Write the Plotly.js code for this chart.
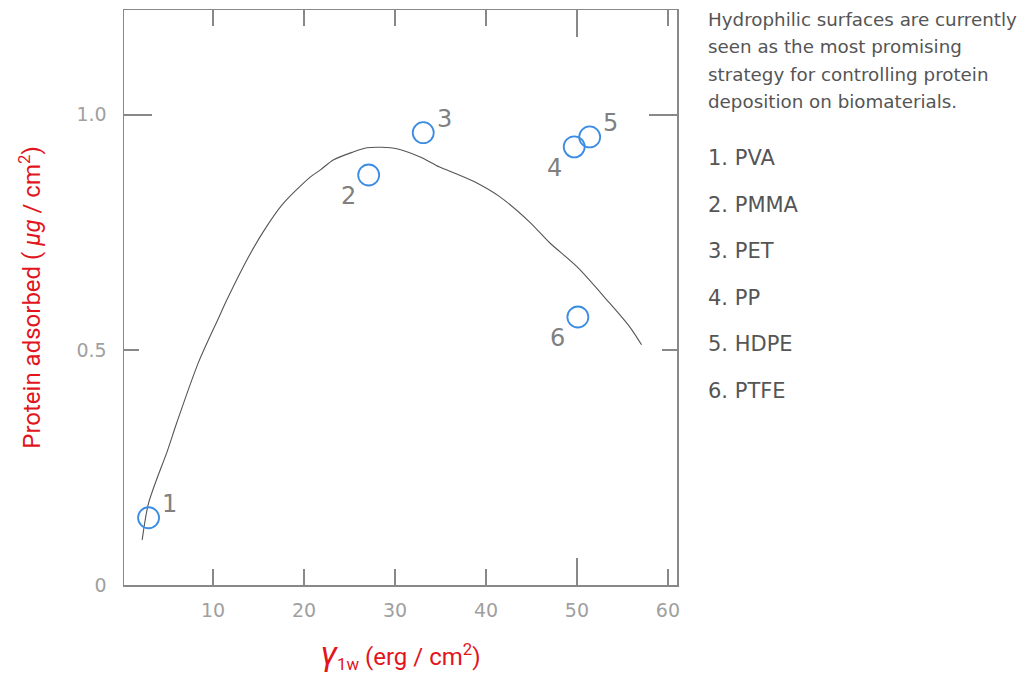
<!DOCTYPE html>
<html>
<head>
<meta charset="utf-8">
<script src="https://cdn.plot.ly/plotly-3.0.1.min.js"></script>
<style>html,body{margin:0;padding:0;background:#fff;}#chart{width:1033px;height:677px;}</style>
</head>
<body>
<div id="chart"></div>
<script>
// Measured materials
const pointLabels = ["1", "2", "3", "4", "5", "6"];
const gamma1w = [2.9, 27.1, 33.1, 49.7, 51.4, 50.1];
const adsorbed = [0.143, 0.872, 0.962, 0.932, 0.953, 0.570];
const labelSides = ["top right", "bottom left", "top right", "bottom left", "top right", "bottom left"];

// Fitted curve
const curveX = [2.2, 2.9, 5.0, 6.0, 8.4, 10.6, 11.5, 13.9, 15.5, 17.6, 20.7, 21.8, 23.2, 25.4, 26.9, 28.5, 30.2, 32.7, 34.9, 36.8, 39.0, 41.5, 44.8, 47.0, 50.0, 53.3, 55.8, 57.1];
const curveY = [0.096, 0.174, 0.287, 0.345, 0.474, 0.568, 0.606, 0.698, 0.751, 0.809, 0.868, 0.883, 0.904, 0.921, 0.930, 0.931, 0.928, 0.911, 0.889, 0.874, 0.855, 0.826, 0.772, 0.728, 0.677, 0.606, 0.549, 0.511];

// Axis ticks
const xTickVals = [10, 20, 30, 40, 50, 60];
const xTickText = ["10", "20", "30", "40", "50", "60"];
const yTickVals = [0, 0.5, 1.0];
const yTickText = ["0", "0.5", "1.0"];
const xLongTick = [50];
const yLongTick = [1.0];

// Side text
const noteLines = ["Hydrophilic surfaces are currently", "seen as the most promising", "strategy for controlling protein", "deposition on biomaterials."];
const materials = ["1. PVA", "2. PMMA", "3. PET", "4. PP", "5. HDPE", "6. PTFE"];

const xRange = [0.2, 61];
const yRange = [0, 1.223];
const FONT = "DejaVu Sans, Verdana, sans-serif";
const tickFont = {family: FONT, size: 19, color: "#a0a0a0"};
const labelOffset = {
  "top right": {xshift: 21, yshift: 14},
  "bottom left": {xshift: -20, yshift: -21}
};

const traces = [
  {
    x: curveX, y: curveY, type: "scatter", mode: "lines",
    line: {color: "#555555", width: 1.1, shape: "spline", smoothing: 0.8},
    hoverinfo: "skip", showlegend: false
  },
  {
    x: gamma1w, y: adsorbed, type: "scatter", mode: "markers",
    marker: {symbol: "circle-open", size: 21, color: "#3b8ce3", line: {width: 1.8, color: "#3b8ce3"}},
    showlegend: false, cliponaxis: false
  },
  {
    x: xLongTick, y: yLongTick, xaxis: "x2", yaxis: "y2", type: "scatter", mode: "markers",
    marker: {opacity: 0}, hoverinfo: "skip", showlegend: false
  }
];

const annotations = [];
pointLabels.forEach((t, i) => {
  const off = labelOffset[labelSides[i]];
  annotations.push({
    x: gamma1w[i], y: adsorbed[i], xref: "x", yref: "y",
    xanchor: "center", yanchor: "middle", showarrow: false, text: t,
    xshift: off.xshift, yshift: off.yshift,
    font: {family: FONT, size: 24, color: "#808080"}
  });
});
noteLines.forEach((t, i) => {
  annotations.push({
    xref: "paper", yref: "paper", x: 1.0524, y: 1.0 - (9 + i * 27.5) / 575,
    xanchor: "left", yanchor: "middle", showarrow: false, text: t, align: "left",
    font: {family: FONT, size: 18.3, color: "#555555"}
  });
});
materials.forEach((t, i) => {
  annotations.push({
    xref: "paper", yref: "paper", x: 1.0524, y: 1.0 - (148 + i * 46.6) / 575,
    xanchor: "left", yanchor: "middle", showarrow: false, text: t, align: "left",
    font: {family: FONT, size: 21, color: "#555555"}
  });
});

const layout = {
  width: 1033, height: 677,
  margin: {l: 124, r: 356, t: 10, b: 92, pad: 0},
  paper_bgcolor: "#ffffff", plot_bgcolor: "#ffffff",
  xaxis: {
    range: xRange, tickvals: xTickVals, ticktext: xTickText,
    ticks: "inside", ticklen: 16, tickwidth: 1.5, tickcolor: "#888888",
    showline: true, linecolor: "#888888", linewidth: 1.5, mirror: "ticks",
    showgrid: false, zeroline: false, tickfont: tickFont, ticklabelstandoff: 8,
    title: {
      text: "<i><span style='font-size:34px'>γ</span></i><sub>1w</sub> (erg / cm<sup>2</sup>)",
      font: {family: "Roboto, sans-serif", size: 24, color: "#e2141c"},
      standoff: 28
    }
  },
  yaxis: {
    range: yRange, tickvals: yTickVals, ticktext: yTickText,
    ticks: "inside", ticklen: 15, tickwidth: 1.5, tickcolor: "#888888",
    showline: true, linecolor: "#888888", linewidth: 1.5, mirror: "ticks",
    showgrid: false, zeroline: false, tickfont: tickFont, ticklabelstandoff: 12,
    title: {
      text: "Protein adsorbed ( <i>μg</i> / cm<sup>2</sup>)",
      font: {family: "Roboto, sans-serif", size: 24, color: "#e2141c"},
      standoff: 29
    }
  },
  xaxis2: {
    overlaying: "x", matches: "x", range: xRange, tickvals: xLongTick,
    ticks: "inside", ticklen: 27, tickwidth: 1.5, tickcolor: "#888888",
    showticklabels: false, showline: false, mirror: "ticks", showgrid: false, zeroline: false
  },
  yaxis2: {
    overlaying: "y", matches: "y", range: yRange, tickvals: yLongTick,
    ticks: "inside", ticklen: 28, tickwidth: 1.5, tickcolor: "#888888",
    showticklabels: false, showline: false, mirror: "ticks", showgrid: false, zeroline: false
  },
  annotations: annotations,
  showlegend: false
};

Plotly.newPlot("chart", traces, layout, {displayModeBar: false, staticPlot: true});
</script>
</body>
</html>
